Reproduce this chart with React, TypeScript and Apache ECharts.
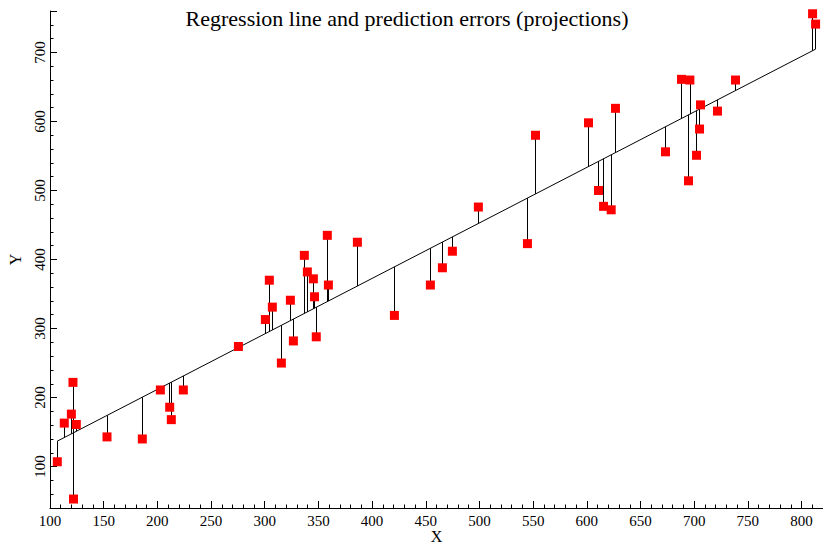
import React, { useEffect, useRef } from "react";
import * as echarts from "echarts";

const titleText = "Regression line and prediction errors (projections)";
const xName = "X";
const yName = "Y";

const xValues = [
  106.8, 113.3, 119.9, 121.4, 121.9, 124.5, 153.1, 186.0, 202.8, 211.5,
  213.0, 224.2, 275.5, 300.6, 304.3, 307.1, 315.5, 323.9, 326.7, 336.9,
  339.7, 345.3, 346.4, 348.0, 358.3, 359.3, 386.3, 420.8, 454.3, 465.5,
  474.8, 499.0, 544.7, 552.2, 601.6, 610.9, 615.6, 622.7, 626.7, 673.3,
  688.2, 694.7, 696.0, 702.2, 705.0, 705.9, 721.7, 738.5, 810.3, 813.1,
];
const yValues = [
  107, 163, 176, 222, 53, 161, 143, 140, 211, 186,
  168, 211, 274, 313, 370, 331, 250, 341, 282, 406,
  382, 372, 346, 288, 435, 363, 425, 319, 363, 388,
  412, 476, 423, 580, 598, 500, 477, 472, 619, 556,
  661, 514, 660, 551, 589, 624, 615, 660, 756, 741,
];

// Regression line: y = intercept + slope * x
const REG_INTERCEPT = 51;
const REG_SLOPE = 0.804;

const xAxisRange = [100, 820];
const yAxisRange = [40, 760];

const SERIF = "'Liberation Serif', 'Times New Roman', serif";

export default function App() {
  const ref = useRef<HTMLDivElement>(null);
  useEffect(() => {
    if (!ref.current) return;
    const chart = echarts.init(ref.current, null, { renderer: "svg" });
    const fit = (x: number) => REG_INTERCEPT + REG_SLOPE * x;
    const xmin = Math.min(...xValues);
    const xmax = Math.max(...xValues);
    const points = xValues.map((x, i) => [x, yValues[i]]);
    const projections = xValues.map((x, i) => ({
      coords: [
        [x, yValues[i]],
        [x, fit(x)],
      ],
    }));
    const axisCommon = {
      type: "value" as const,
      axisLine: { show: true, lineStyle: { color: "#000", width: 1 } },
      axisTick: { show: true, inside: true, length: 7, lineStyle: { color: "#000" } },
      minorTick: { show: true, splitNumber: 5, length: 3.5, lineStyle: { color: "#000" } },
      splitLine: { show: false },
      minorSplitLine: { show: false },
      nameLocation: "middle" as const,
      nameMoveOverlap: false,
    };
    chart.setOption({
      animation: false,
      backgroundColor: "#fff",
      title: {
        text: titleText,
        left: 402,
        textAlign: "center",
        top: 2,
        textStyle: { color: "#000", fontFamily: SERIF, fontSize: 22, fontWeight: "normal" },
      },
      grid: { left: 50, right: 0, top: 11, bottom: 36, containLabel: false, outerBoundsMode: "none" },
      xAxis: {
        ...axisCommon,
        min: xAxisRange[0],
        max: xAxisRange[1],
        interval: 50,
        name: xName,
        nameGap: 21,
        nameTextStyle: { color: "#000", fontFamily: SERIF, fontSize: 16, lineHeight: 14 },
        axisLabel: {
          color: "#000",
          fontFamily: SERIF,
          fontSize: 15,
          margin: 5,
          showMaxLabel: false,
        },
      },
      yAxis: {
        ...axisCommon,
        min: yAxisRange[0],
        max: yAxisRange[1],
        name: yName,
        nameGap: 27,
        nameRotate: 90,
        nameTextStyle: { color: "#000", fontFamily: SERIF, fontSize: 16 },
        axisLabel: {
          color: "#000",
          fontFamily: SERIF,
          fontSize: 15,
          margin: 3,
          rotate: 90,
          showMinLabel: false,
          showMaxLabel: false,
        },
      },
      series: [
        {
          type: "lines",
          coordinateSystem: "cartesian2d",
          data: projections,
          silent: true,
          lineStyle: { color: "#000", width: 1, opacity: 1 },
          z: 1,
        },
        {
          type: "line",
          data: [
            [xmin, fit(xmin)],
            [xmax, fit(xmax)],
          ],
          showSymbol: false,
          symbol: "none",
          silent: true,
          lineStyle: { color: "#000", width: 1 },
          z: 2,
        },
        {
          type: "scatter",
          data: points,
          symbol: "rect",
          symbolSize: 9,
          itemStyle: { color: "#ff0000", opacity: 1 },
          z: 3,
        },
      ],
    });
    return () => chart.dispose();
  }, []);
  return (
    <div
      ref={ref}
      style={{ position: "fixed", left: 0, top: 0, width: 823, height: 544, background: "#fff" }}
    />
  );
}
